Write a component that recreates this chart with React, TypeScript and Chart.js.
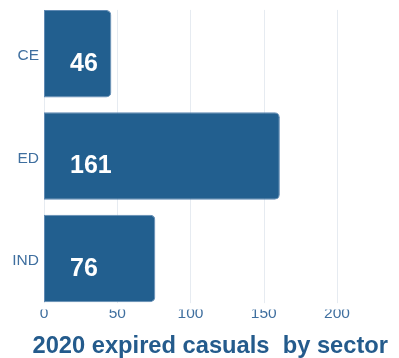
import React, { useEffect, useRef } from "react";
import { Chart, registerables } from "chart.js";

Chart.register(...registerables);

const categories = ["CE", "ED", "IND"];
const values = [46, 161, 76];
const xTicks = [0, 50, 100, 150, 200];
const titleText = "2020 expired casuals  by sector";

const BAR = "#225f8f";
const TICK = "#3f6f9f";
const FONT = "'Liberation Sans', Arial, sans-serif";

const gridPlugin = {
  id: "barGrid",
  beforeDatasetsDraw(chart: any) {
    const meta = chart.getDatasetMeta(0);
    const xs = chart.scales.x;
    let top = Infinity;
    let bottom = -Infinity;
    meta.data.forEach((b: any) => {
      top = Math.min(top, b.y - b.height / 2);
      bottom = Math.max(bottom, b.y + b.height / 2);
    });
    const ctx = chart.ctx;
    ctx.save();
    ctx.strokeStyle = "#e6ebf1";
    ctx.lineWidth = 1;
    xTicks.forEach((v) => {
      const px = Math.round(xs.getPixelForValue(v)) + 0.5;
      ctx.beginPath();
      ctx.moveTo(px, top);
      ctx.lineTo(px, bottom + 1);
      ctx.stroke();
    });
    ctx.restore();
  },
};

const labelPlugin = {
  id: "barLabels",
  afterDatasetsDraw(chart: any) {
    const meta = chart.getDatasetMeta(0);
    const ctx = chart.ctx;
    ctx.save();
    ctx.fillStyle = "#ffffff";
    ctx.font = `bold 25px ${FONT}`;
    ctx.textAlign = "left";
    ctx.textBaseline = "middle";
    meta.data.forEach((b: any, i: number) => {
      ctx.fillText(String(values[i]), b.base + 26, b.y + 10.5);
    });
    ctx.restore();
  },
};

export default function App() {
  const ref = useRef<HTMLCanvasElement | null>(null);
  useEffect(() => {
    if (!ref.current) return;
    const chart = new Chart(ref.current, {
      type: "bar",
      data: {
        labels: categories,
        datasets: [
          {
            data: values,
            backgroundColor: BAR,
            borderColor: "#5f89b3",
            borderWidth: 1,
            borderSkipped: false,
            borderRadius: { topLeft: 0, bottomLeft: 0, topRight: 5, bottomRight: 5 },
            barPercentage: 0.855,
            categoryPercentage: 1,
          },
        ],
      },
      options: {
        indexAxis: "y",
        animation: false,
        responsive: true,
        maintainAspectRatio: false,
        layout: { padding: { top: 2.5, left: 0, right: 11, bottom: 0 } },
        plugins: {
          legend: { display: false },
          tooltip: { enabled: false },
          title: {
            display: true,
            text: titleText,
            position: "bottom",
            align: "end",
            fullSize: true,
            color: "#245b8c",
            font: { family: FONT, size: 23.7, weight: "bold", lineHeight: 0.98 },
            padding: { top: 0, bottom: 0 },
          },
        },
        scales: {
          x: {
            min: 0,
            max: 228,
            grid: { display: false, drawTicks: false },
            border: { display: false },
            ticks: {
              stepSize: 50,
              color: TICK,
              padding: -5,
              font: { family: FONT, size: 15.5 },
            },
            afterBuildTicks: (s: any) => {
              s.ticks = s.ticks.filter((t: any) => xTicks.includes(t.value));
            },
            afterFit: (s: any) => {
              s.height = 25.2;
              s.paddingLeft = 0;
              s.paddingRight = 21;
            },
          },
          y: {
            grid: { display: false, drawTicks: false },
            border: { display: false },
            ticks: {
              color: TICK,
              padding: 5,
              labelOffset: 2.5,
              font: { family: FONT, size: 15.5 },
            },
            afterFit: (s: any) => {
              s.width = 44;
              s.paddingTop = 0;
              s.paddingBottom = 0;
            },
          },
        },
      },
      plugins: [gridPlugin, labelPlugin],
    });
    return () => chart.destroy();
  }, []);
  return (
    <div style={{ position: "fixed", left: 0, top: 0, width: 399, height: 358, background: "#fff" }}>
      <canvas ref={ref} />
    </div>
  );
}
